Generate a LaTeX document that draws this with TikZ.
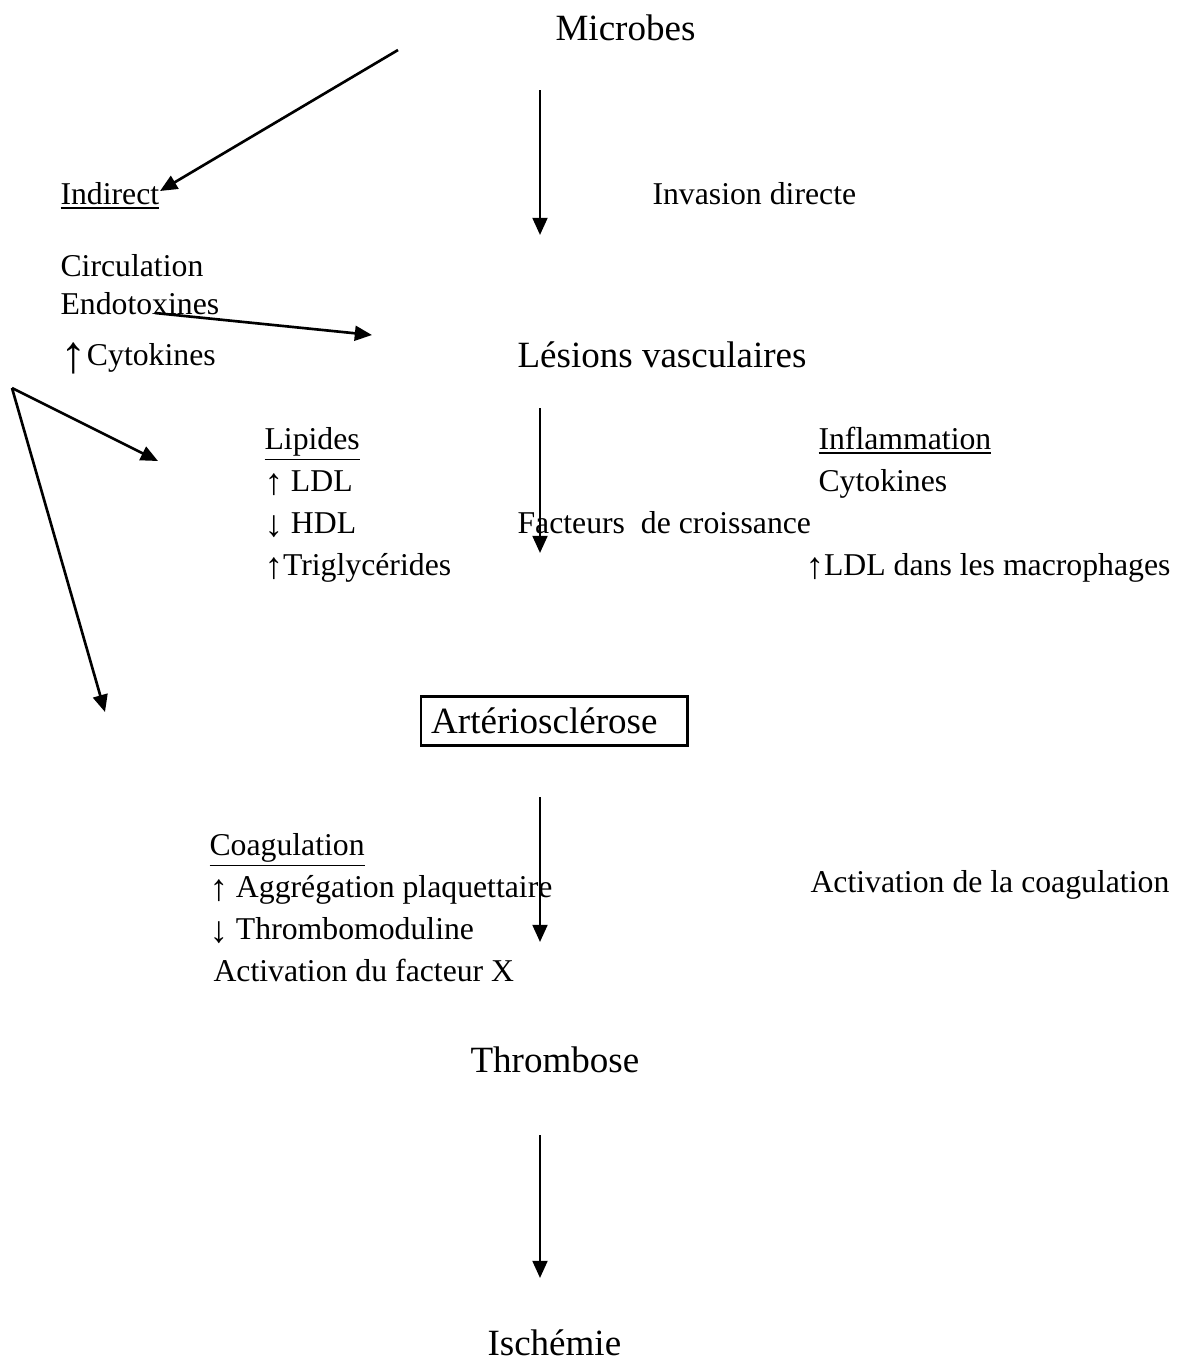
\documentclass[tikz,border=0pt]{standalone}
\usepackage{fontspec}
\setmainfont{Liberation Serif}
\usetikzlibrary{arrows.meta}
\tikzset{
  txt/.style={anchor=base west, inner sep=0pt,
    font=\fontsize{12}{14}\selectfont},
  bigtxt/.style={anchor=base west, inner sep=0pt,
    font=\fontsize{14}{17}\selectfont},
  flow/.style={-{Triangle[length=6.5pt,width=5.6pt]}, line width=1pt},
  framebox/.style={rectangle, draw, line width=0.9pt, anchor=west,
    font=\fontsize{14}{17}\selectfont, align=left,
    text width=93pt, inner xsep=3.8pt, minimum height=18.5pt},
}
\newcommand{\bigup}{\raisebox{-3pt}{\fontsize{20}{20}\selectfont ↑}}
\newcommand{\upar}{\raisebox{-1.5pt}{\fontsize{14}{14}\selectfont ↑}}
\newcommand{\dnar}{\raisebox{-1.5pt}{\fontsize{14}{14}\selectfont ↓}}

\begin{document}
\begin{tikzpicture}[x=0.378pt, y=-0.378pt]
  \useasboundingbox (0,0) rectangle (1181,1363);
  % top
  \node[bigtxt] (microbes) at (555,40) {Microbes};
  \node[txt] (indirect) at (60,204) {\underline{Indirect}};
  \node[txt] (invasion) at (652,204) {Invasion directe};
  \node[txt] (circ) at (60,276) {Circulation};
  \node[txt] (endo) at (60,314) {Endotoxines};
  \node[txt] (cyto) at (60,365) {\bigup Cytokines};
  \node[bigtxt] (lesions) at (517,367) {Lésions vasculaires};
  % lipides / inflammation
  \node[txt] (lipides) at (264,449) {\underline{Lipides}};
  \node[txt] (ldl) at (264,491) {\upar{} LDL};
  \node[txt] (hdl) at (264,533) {\dnar{} HDL};
  \node[txt] (trig) at (264,575) {\upar Triglycérides};
  \node[txt] (inflam) at (818,449) {\underline{Inflammation}};
  \node[txt] (cyto2) at (818,491) {Cytokines};
  \node[txt] (facteurs) at (517,533) {Facteurs\ \ de croissance};
  \node[txt] (macro) at (805,575) {\upar LDL dans les macrophages};
  \node[framebox] (arterio) at (420,721) {Artériosclérose};
  % coagulation
  \node[txt] (coag) at (209,855) {\underline{Coagulation}};
  \node[txt] (aggreg) at (209,897) {\upar{} Aggrégation plaquettaire};
  \node[txt] (thrmod) at (209,939) {\dnar{} Thrombomoduline};
  \node[txt] (factx) at (213,981) {Activation du facteur X};
  \node[txt] (activ) at (810,892) {Activation de la coagulation};
  \node[bigtxt] (thrombose) at (470,1072) {Thrombose};
  \node[bigtxt] (ischemie) at (487,1355) {Ischémie};

  % arrow ends
  \coordinate (d1) at (398,50);
  \coordinate (d2) at (160,191);
  \coordinate (e1) at (155,313);
  \coordinate (e2) at (372,335);
  \coordinate (fork) at (12,388);
  \coordinate (f1) at (158,461);
  \coordinate (f2) at (105,712);
  \coordinate (v1) at (540,90);   \coordinate (w1) at (540,235);
  \coordinate (v2) at (540,408);  \coordinate (w2) at (540,553);
  \coordinate (v3) at (540,797);  \coordinate (w3) at (540,942);
  \coordinate (v4) at (540,1135); \coordinate (w4) at (540,1278);

  \draw[flow] (d1) -- (d2);
  \draw[flow] (e1) -- (e2);
  \draw[flow] (fork) -- (f1);
  \draw[flow] (fork) -- (f2);
  \draw[flow] (v1) -- (w1);
  \draw[flow] (v2) -- (w2);
  \draw[flow] (v3) -- (w3);
  \draw[flow] (v4) -- (w4);
\end{tikzpicture}
\end{document}
